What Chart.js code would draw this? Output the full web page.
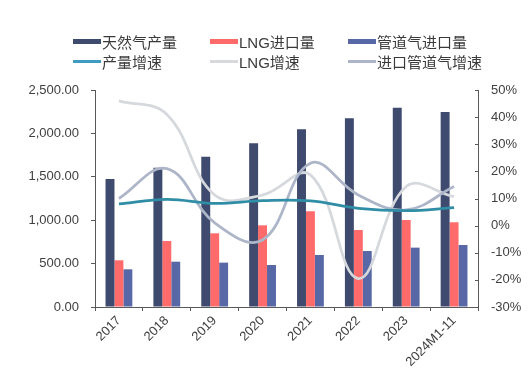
<!DOCTYPE html>
<html>
<head>
<meta charset="utf-8">
<script src="https://cdn.jsdelivr.net/npm/chart.js@4.4.1/dist/chart.umd.min.js"></script>
<style>
  body { margin: 0; background: #fff; }
  #wrap { position: relative; width: 532px; height: 374px; overflow: hidden; }
  #chart { position: absolute; left: 0; top: 0; }
  .leg {
    position: absolute; height: 16px; display: flex; align-items: center;
    font: 15px "Liberation Sans", "Noto Sans CJK SC", sans-serif; color: #3a3a3a;
    white-space: nowrap;
  }
  .leg .sw { display: inline-block; width: 28px; margin-right: 1px; }
</style>
</head>
<body>
<div id="wrap">
  <canvas id="chart" width="532" height="374"></canvas>
</div>
<script>
// Categories (years)
const categories = ["2017", "2018", "2019", "2020", "2021", "2022", "2023", "2024M1-11"];

// Bars, left axis (亿立方米)
const production = [1475, 1605, 1732, 1886, 2047, 2174, 2296, 2247];
const lngImport = [538, 760, 849, 941, 1102, 887, 1002, 976];
const pipeImport = [434, 522, 511, 484, 599, 645, 684, 714];

// Lines, right axis (%)
const prodGrowth = [8.0, 9.7, 8.2, 9.2, 9.1, 6.4, 5.5, 6.6];
const lngGrowth = [46, 41, 11.3, 11.3, 18.7, -19.5, 14.4, 10.7];
const pipeGrowth = [10, 21, 1, -5.3, 23, 11.3, 5.8, 14.4];

// Tick settings
const leftTicks = { min: 0, max: 2500, step: 500 };
const rightTicks = { min: -30, max: 50, step: 10 };

const axisColor = "#595959";
const textColor = "#404040";
const tickFont = { family: "'Liberation Sans', Arial, sans-serif", size: 13 };

// Legend items (HTML text)
const legendItems = [
  { label: "天然气产量", color: "#3E4A6E", kind: "bar", x: 73, y: 33 },
  { label: "LNG进口量", color: "#FF6B6B", kind: "bar", x: 210, y: 33 },
  { label: "管道气进口量", color: "#5868A6", kind: "bar", x: 348, y: 33 },
  { label: "产量增速", color: "#3F9CC0", kind: "line", x: 73, y: 53 },
  { label: "LNG增速", color: "#D7D9DD", kind: "line", x: 210, y: 53 },
  { label: "进口管道气增速", color: "#ADB6C8", kind: "line", x: 348, y: 53 },
];

const wrap = document.getElementById("wrap");
legendItems.forEach((it) => {
  const d = document.createElement("div");
  d.className = "leg";
  d.style.left = it.x + "px";
  d.style.top = it.y + "px";
  const sw = document.createElement("span");
  sw.className = "sw";
  sw.style.height = it.kind === "bar" ? "5px" : "3px";
  sw.style.background = it.color;
  d.appendChild(sw);
  d.appendChild(document.createTextNode(it.label));
  wrap.appendChild(d);
});

// small inward tick marks on the right axis
const rightTickPlugin = {
  id: "rightTicks",
  afterDraw(chart) {
    const s = chart.scales.y1;
    const ctx = chart.ctx;
    ctx.save();
    ctx.strokeStyle = axisColor;
    ctx.lineWidth = 1;
    s.ticks.forEach((t) => {
      const y = Math.round(s.getPixelForValue(t.value)) + 0.5;
      ctx.beginPath();
      ctx.moveTo(s.left - 3, y);
      ctx.lineTo(s.left, y);
      ctx.stroke();
    });
    ctx.restore();
  },
};

const lineStyle = (color) => ({
  type: "line",
  yAxisID: "y1",
  borderColor: color,
  backgroundColor: color,
  borderWidth: 2.75,
  pointRadius: 0,
  tension: 0.4,
  fill: false,
  order: 0,
});

const barStyle = (color) => ({
  type: "bar",
  yAxisID: "y",
  backgroundColor: color,
  borderWidth: 0,
  categoryPercentage: 0.56,
  barPercentage: 1.0,
  order: 1,
});

const ctx = document.getElementById("chart").getContext("2d");
new Chart(ctx, {
  data: {
    labels: categories,
    datasets: [
      { label: "产量增速", data: prodGrowth, ...lineStyle("#2F8DA6") },
      { label: "进口管道气增速", data: pipeGrowth, ...lineStyle("#ADB6C8") },
      { label: "LNG增速", data: lngGrowth, ...lineStyle("#D5D8DC") },
      { label: "天然气产量", data: production, ...barStyle("#3E4A6E") },
      { label: "LNG进口量", data: lngImport, ...barStyle("#FF6B6B") },
      { label: "管道气进口量", data: pipeImport, ...barStyle("#5868A6") },
    ],
  },
  options: {
    responsive: false,
    animation: false,
    layout: { padding: { top: 90, left: 0, right: 0, bottom: 0 } },
    plugins: {
      legend: { display: false },
      title: { display: false },
      tooltip: { enabled: false },
    },
    scales: {
      x: {
        offset: true,
        grid: {
          display: true,
          offset: true,
          drawOnChartArea: false,
          drawTicks: true,
          tickLength: 4,
          color: axisColor,
        },
        border: { color: axisColor, width: 1 },
        ticks: {
          color: textColor,
          font: tickFont,
          minRotation: 45,
          maxRotation: 45,
          padding: 2,
          autoSkip: false,
        },
        afterFit(s) { s.height = 67; },
      },
      y: {
        position: "left",
        min: leftTicks.min,
        max: leftTicks.max,
        grid: {
          display: true,
          drawOnChartArea: false,
          drawTicks: true,
          tickLength: 4,
          color: axisColor,
        },
        border: { color: axisColor, width: 1 },
        ticks: {
          stepSize: leftTicks.step,
          color: textColor,
          font: tickFont,
          padding: 12,
          callback: (v) =>
            Number(v).toLocaleString("en-US", { minimumFractionDigits: 2, maximumFractionDigits: 2 }),
        },
        afterFit(s) { s.width = 95; },
      },
      y1: {
        position: "right",
        min: rightTicks.min,
        max: rightTicks.max,
        grid: {
          display: true,
          drawOnChartArea: false,
          drawTicks: false,
          color: axisColor,
        },
        border: { color: axisColor, width: 1 },
        ticks: {
          stepSize: rightTicks.step,
          color: textColor,
          font: tickFont,
          padding: 13,
          callback: (v) => v + "%",
        },
        afterFit(s) { s.width = 54; },
      },
    },
  },
  plugins: [rightTickPlugin],
});
</script>
</body>
</html>
